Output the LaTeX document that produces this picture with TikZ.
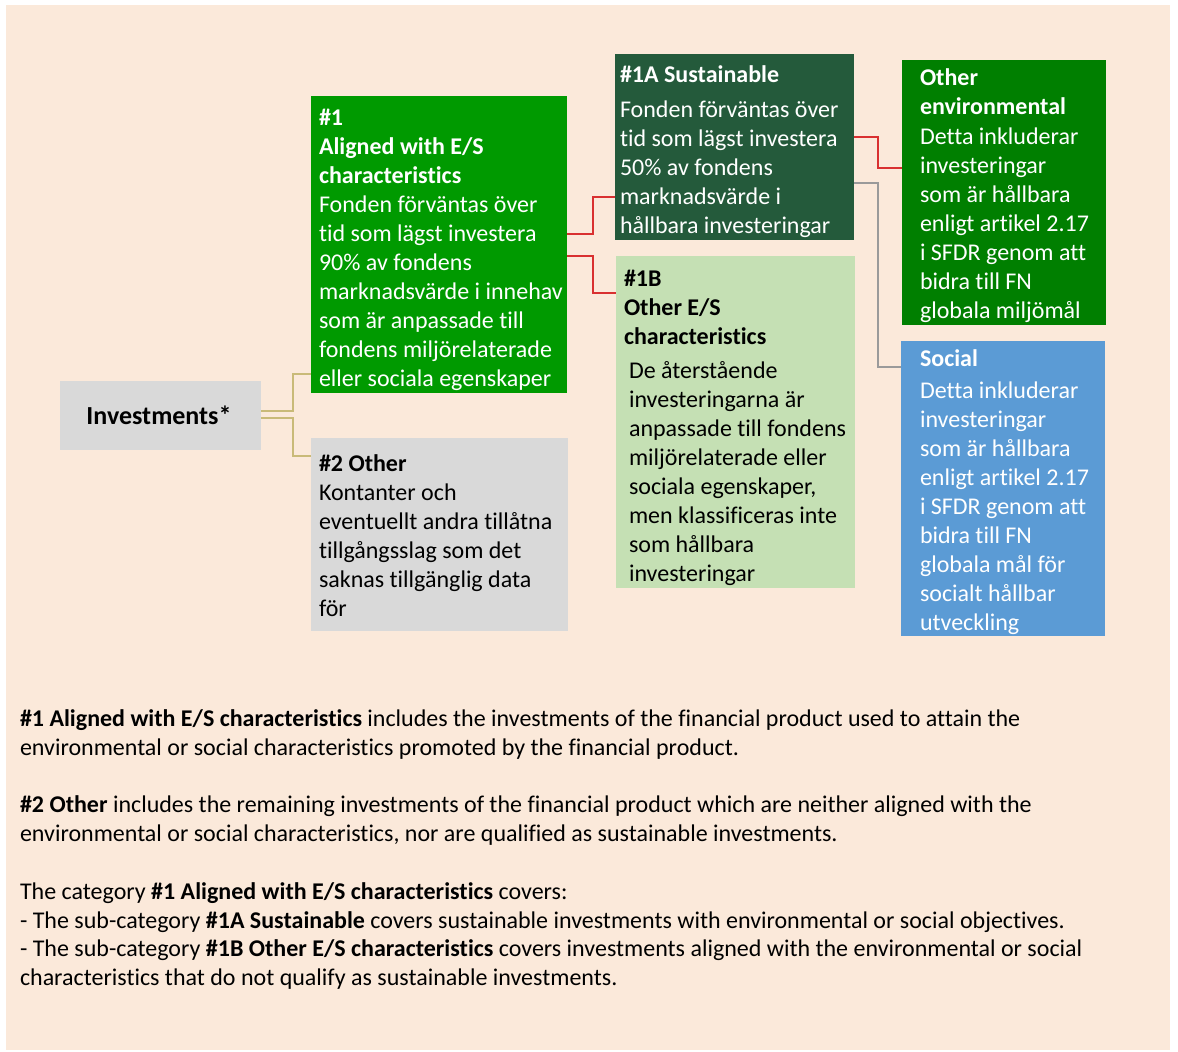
\documentclass[tikz,border=0pt]{standalone}
\usepackage{fontspec}
\setmainfont{Carlito}[Ligatures=NoCommon]
\definecolor{bgc}{HTML}{FBE9DA}
\definecolor{boxgray}{HTML}{D9D9D9}
\definecolor{gA}{HTML}{009A00}
\definecolor{gdark}{HTML}{245A3B}
\definecolor{genv}{HTML}{007F00}
\definecolor{glight}{HTML}{C5E0B4}
\definecolor{bsoc}{HTML}{5B9BD5}
\definecolor{tanline}{HTML}{C9BA78}
\definecolor{redline}{HTML}{D93030}
\definecolor{grayline}{HTML}{9A9A9A}
\begin{document}
\begin{tikzpicture}[x=1pt,y=-1pt,
  box/.style={anchor=north west, inner sep=0pt, outer sep=0pt, draw=none},
  txt/.style={anchor=north west, inner sep=0pt, outer sep=0pt, align=left,
    font=\fontsize{24}{29}\selectfont},
  conn/.style={line width=1.6pt}]
\useasboundingbox (0,0) rectangle (1178,1052);
\fill[white] (0,0) rectangle (1178,1052);
\fill[bgc] (6,5) rectangle (1170,1050);

% boxes
\node[box, fill=boxgray, minimum width=201pt, minimum height=69pt, anchor=north west,
  font=\fontsize{26}{30}\selectfont] (inv) at (60,381) {\hspace*{-3pt}\textbf{Investments*}};
\node[box, fill=gA, minimum width=256pt, minimum height=297pt] (n1) at (311,96) {};
\node[box, fill=boxgray, minimum width=257pt, minimum height=193pt] (n2) at (311,438) {};
\node[box, fill=gdark, minimum width=239pt, minimum height=186pt] (n1a) at (615,54) {};
\node[box, fill=glight, minimum width=239pt, minimum height=332pt] (n1b) at (616,256) {};
\node[box, fill=genv, minimum width=204pt, minimum height=265pt] (oe) at (902,60) {};
\node[box, fill=bsoc, minimum width=204pt, minimum height=295pt] (soc) at (901,341) {};

% texts
\node[txt, text=white] (t1) at (319,105.4) {\strut\textbf{\#1}\\ \textbf{Aligned with E/S}\\ \textbf{characteristics}\\
 Fonden förväntas över\\ tid som lägst investera\\ 90\% av fondens\\ marknadsvärde i innehav\\
 som är anpassade till\\ fondens miljörelaterade\\ eller sociala egenskaper};
\node[txt] (t2) at (319,451.4) {\strut\textbf{\#2 Other}\\ Kontanter och\\ eventuellt andra tillåtna\\
 tillgångsslag som det\\ saknas tillgänglig data\\ för};
\node[txt, text=white] (t1a) at (620,62.4) {\strut\textbf{\#1A Sustainable}\\[6pt] Fonden förväntas över\\
 tid som lägst investera\\ 50\% av fondens\\ marknadsvärde i\\ hållbara investeringar};
\node[txt] (t1b) at (624,266.4) {\strut\textbf{\#1B}\\ \textbf{Other E/S}\\ \textbf{characteristics}};
\node[txt] (t1bb) at (629,358.4) {\strut De återstående\\ investeringarna är\\ anpassade till fondens\\
 miljörelaterade eller\\ sociala egenskaper,\\ men klassificeras inte\\ som hållbara\\ investeringar};
\node[txt, text=white] (toe) at (920,65.4) {\strut\textbf{Other}\\ \textbf{environmental}\\[1pt] Detta inkluderar\\
 investeringar\\ som är hållbara\\ enligt artikel 2.17\\ i SFDR genom att\\ bidra till FN\\ globala miljömål};
\node[txt, text=white] (tsoc) at (920,346.4) {\strut\textbf{Social}\\[3pt] Detta inkluderar\\ investeringar\\
 som är hållbara\\ enligt artikel 2.17\\ i SFDR genom att\\ bidra till FN\\ globala mål för\\
 socialt hållbar\\ utveckling};

% connectors
\draw[conn, tanline] (inv.east |- 0,411) -- (293,411) |- (n1.west |- 0,374);
\draw[conn, tanline] (inv.east |- 0,418) -- (293,418) |- (n2.west |- 0,456);
\draw[conn, redline] (n1.east |- 0,234) -- (593,234) |- (n1a.west |- 0,197);
\draw[conn, redline] (n1.east |- 0,256) -- (593,256) |- (n1b.west |- 0,293);
\draw[conn, redline] (n1a.east |- 0,137) -- (878,137) |- (oe.west |- 0,168);
\draw[conn, grayline] (n1a.east |- 0,183) -- (878,183) |- (soc.west |- 0,367);

% bottom text
\node[txt, font=\fontsize{24}{28.8}\selectfont] (notes) at (20,706.4) {\strut\textbf{\#1 Aligned with E/S characteristics} includes the investments of the financial product used to attain the\\
environmental or social characteristics promoted by the financial product.\\[28.8pt]
\textbf{\#2 Other} includes the remaining investments of the financial product which are neither aligned with the\\
environmental or social characteristics, nor are qualified as sustainable investments.\\[28.8pt]
The category \textbf{\#1 Aligned with E/S characteristics} covers:\\
- The sub-category \textbf{\#1A Sustainable} covers sustainable investments with environmental or social objectives.\\
- The sub-category \textbf{\#1B Other E/S characteristics} covers investments aligned with the environmental or social\\
characteristics that do not qualify as sustainable investments.};
\end{tikzpicture}
\end{document}
